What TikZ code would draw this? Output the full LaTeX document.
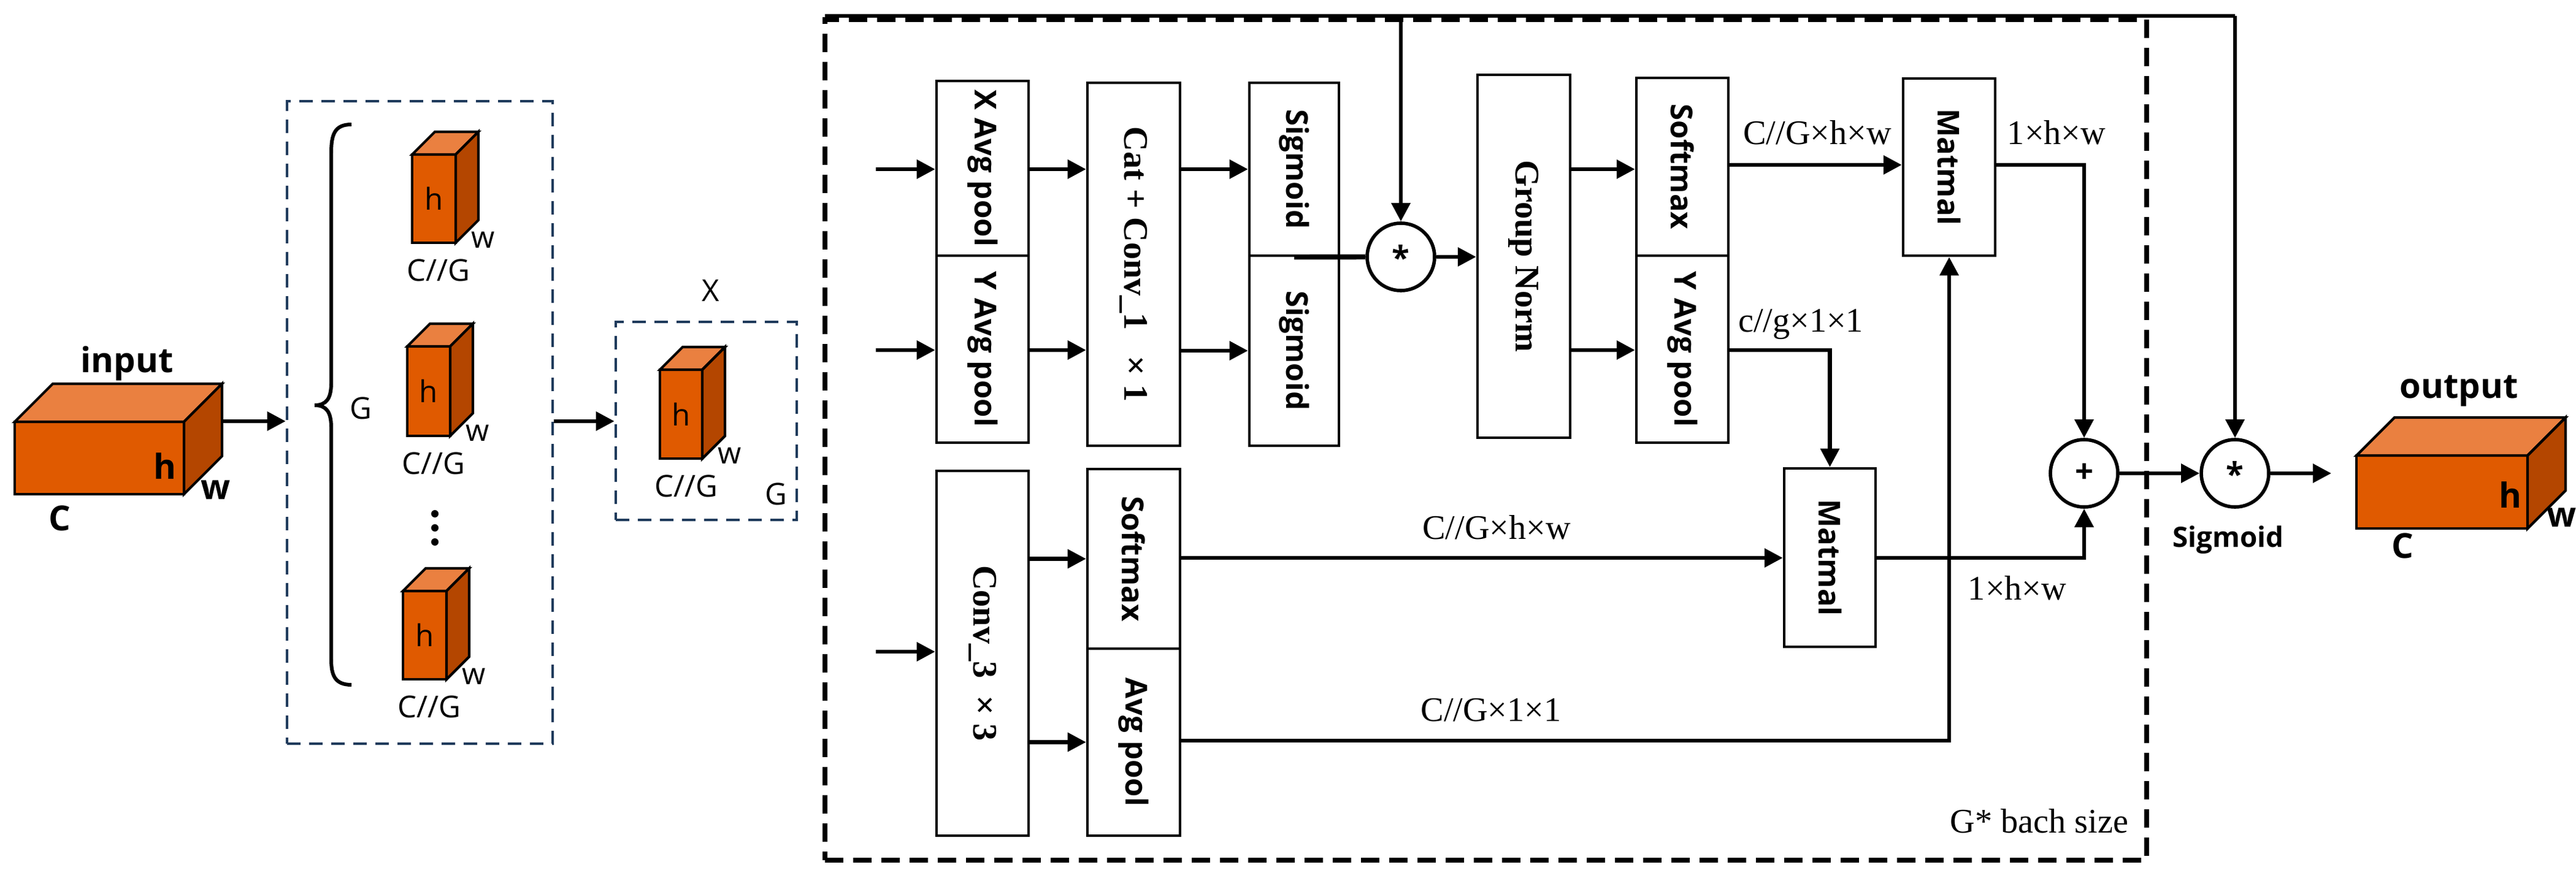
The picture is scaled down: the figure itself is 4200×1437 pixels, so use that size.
\documentclass[tikz,border=0pt]{standalone}
\usepackage{fontspec}
\setmainfont{Liberation Serif}
\newfontfamily\osans{Open Sans}
\usetikzlibrary{arrows.meta}
\definecolor{cfront}{HTML}{E05A00}
\definecolor{ctop}{HTML}{EA8040}
\definecolor{cside}{HTML}{B44600}
\definecolor{cblue}{HTML}{1F3B5C}
\newcommand\mycuboid[5]{% x y w h d
  \draw[cube] (#1,#2) rectangle ++(#3,#4);
  \draw[cube,fill=ctop] (#1,#2) -- ++(#5,-#5) -- ++(#3,0) -- ++(-#5,#5) -- cycle;
  \draw[cube,fill=cside] (#1+#3,#2) -- ++(#5,-#5) -- ++(0,#4) -- ++(-#5,#5) -- cycle;
}
\newcommand\smallcube[5]{% name x y w h
  \mycuboid{#2}{#3}{#4}{#5}{37}
  \node[clab] (#1h) at (#2+#4/2,#3+#5/2) {h};
  \node[clab] (#1w) at (#2+#4+45,#3+#5-5) {w};
  \node[clab] (#1c) at (#2+43,#3+#5+45) {C//G};
}
\begin{document}
\begin{tikzpicture}[x=0.1mm,y=-0.1mm,
  box/.style={draw,line width=1.3pt,inner sep=0pt},
  rot/.style={rotate=-90,font=\osans\bfseries\fontsize{14}{14}\selectfont},
  rots/.style={rotate=-90,font=\bfseries\fontsize{16}{16}\selectfont},
  arr/.style={line width=1.8pt,-{Triangle[length=3mm,width=3mm]}},
  ln/.style={line width=1.8pt},
  circ/.style={draw,circle,line width=1.6pt,minimum size=11mm,inner sep=0pt,font=\osans\bfseries\fontsize{15}{15}\selectfont},
  dim/.style={font=\fontsize{16}{16}\selectfont},
  cube/.style={draw,line width=1.2pt,fill=cfront},
  clab/.style={font=\osans\fontsize{14}{14}\selectfont},
  blab/.style={font=\osans\bfseries\fontsize{16}{16}\selectfont},
  bluebox/.style={draw=cblue,line width=1.3pt,dash pattern=on 2.2mm off 1.4mm}]
\useasboundingbox (0,0) rectangle (4200,1437);

% ---------- left part ----------
\mycuboid{24}{688}{276}{118}{62}
\node[blab] (inlab) at (207,593) {input};
\node[blab] (inh) at (269,760) {h};
\node[blab] (inw) at (352,799) {w};
\node[blab] (inc) at (97,845) {C};
\coordinate (incube) at (362,687);

\node[bluebox,minimum width=43.3mm,minimum height=104.8mm] (grp) at (684.5,689) {};
\draw[arr] (incube) -- (grp.west|-incube);
\draw[line width=1.7pt] (573,203) .. controls (545,203) and (540,220) .. (540,250) -- (540,625)
  .. controls (540,650) and (532,661) .. (513,661) .. controls (532,661) and (540,672) .. (540,697)
  -- (540,1075) .. controls (540,1100) and (545,1117) .. (573,1117);
\node[clab] (glab) at (588,666) {G};
\smallcube{a}{672}{252}{71}{144}
\smallcube{b}{664}{565}{70}{146}
\smallcube{c}{657}{964}{71}{144}
\foreach \yy in {838,861,884} \fill (709,\yy) circle (6);

\node[bluebox,minimum width=29.5mm,minimum height=32.3mm] (xbox) at (1151.5,686.5) {};
\draw[arr] (grp.east|-incube) -- (xbox.west|-incube);
\node[clab] (xlab) at (1159,474) {X};
\smallcube{d}{1076}{603}{69}{145}
\node[clab] (xg) at (1265,806) {G};

% ---------- big box ----------
\node[draw,line width=2.2pt,dash pattern=on 3mm off 1.6mm,minimum width=215.5mm,minimum height=137.1mm] (big) at (2422.5,717.5) {};
\node[dim] (gbs) at (3325,1339) {G* bach size};

\node[box,minimum width=15mm,minimum height=28.5mm] (xa) at (1602,274.5) {};
\node[rot] at (xa) {X Avg pool};
\node[box,minimum width=15mm,minimum height=30.5mm] (ya) at (1602,569.5) {};
\node[rot] at (ya) {Y Avg pool};
\node[box,minimum width=15.1mm,minimum height=59.2mm] (cat) at (1848.5,431) {};
\node[rots] at (cat) {Cat + Conv\_1 \ \ × 1};
\node[box,minimum width=14.6mm,minimum height=28.2mm] (sg1) at (2110,276) {};
\node[rot] at (sg1) {Sigmoid};
\node[box,minimum width=14.6mm,minimum height=31mm] (sg2) at (2110,572) {};
\node[rot] at (sg2) {Sigmoid};
\node[circ] (mul1) at (2284,419) {*};
\node[box,minimum width=15.1mm,minimum height=59.2mm] (gn) at (2484.5,418) {};
\node[rots] at (gn) {Group Norm};
\node[box,minimum width=15mm,minimum height=29mm] (sm1) at (2743,272) {};
\node[rot] at (sm1) {Softmax};
\node[box,minimum width=15mm,minimum height=30.5mm] (yap) at (2743,569.5) {};
\node[rot] at (yap) {Y Avg pool};
\node[box,minimum width=15mm,minimum height=28.9mm] (mm1) at (3178,272.5) {};
\node[rot] at (mm1) {Matmal};
\node[box,minimum width=14.9mm,minimum height=29.1mm] (mm2) at (2983.5,909.5) {};
\node[rot] at (mm2) {Matmal};
\node[box,minimum width=15mm,minimum height=59.5mm] (conv) at (1602,1065.5) {};
\node[rots] at (conv) {Conv\_3 \ × 3};
\node[box,minimum width=15.1mm,minimum height=29.3mm] (sm2) at (1848.5,911.5) {};
\node[rot] at (sm2) {Softmax};
\node[box,minimum width=15.1mm,minimum height=30.5mm] (ap) at (1848.5,1210.5) {};
\node[rot] at (ap) {Avg pool};
\node[circ] (plus) at (3398,772) {+};
\node[circ] (mul2) at (3644,772) {*};

% inputs
\coordinate (i1) at (1428,276);
\coordinate (i2) at (1428,571);
\coordinate (i3) at (1428,1063);
\draw[arr] (i1) -- (xa.west|-i1);
\draw[arr] (i2) -- (ya.west|-i2);
\draw[arr] (i3) -- (conv.west|-i3);
\draw[arr] (xa.east|-i1) -- (cat.west|-i1);
\draw[arr] (ya.east|-i2) -- (cat.west|-i2);
\draw[arr] (cat.east|-sg1) -- (sg1.west);
\draw[arr] (cat.east|-sg2) -- (sg2.west);
\draw[line width=2.4pt] (sg1.south) -- (mul1.west);
\draw[arr] (mul1) -- (gn.west|-mul1);
\draw[arr] (gn.east|-i1) -- (sm1.west|-i1);
\draw[arr] (gn.east|-i2) -- (yap.west|-i2);
\coordinate (top0) at (1345,26);
\coordinate (topr) at (3644,26);
\draw[ln] (top0) -- (topr);
\draw[arr] (topr) -- (mul2.north);
\draw[arr] (mul1|-top0) -- (mul1.north);
\coordinate (r1) at (2820,269);
\draw[arr] (sm1.east|-r1) -- (mm1.west|-r1);
\draw[arr] (mm1.east|-r1) -| (plus.north);
\coordinate (r2) at (2820,571);
\draw[arr] (yap.east|-r2) -| (mm2.north);
\coordinate (r3) at (1924,910);
\draw[arr] (conv.east|-sm2) -- (sm2.west);
\draw[arr] (conv.east|-ap) -- (ap.west);
\draw[arr] (sm2.east|-r3) -- (mm2.west|-r3);
\draw[arr] (mm2.east|-r3) -| (plus.south);
\coordinate (r4) at (1924,1208);
\draw[arr] (ap.east|-r4) -| (mm1.south);
\draw[arr] (plus) -- (mul2);
\coordinate (outc) at (3801,772);
\draw[arr] (mul2) -- (outc);

\node[dim] (d1) at (2963,216) {C//G×h×w};
\node[dim] (d2) at (3353,216) {1×h×w};
\node[dim] (d3) at (2936,529) {c//g×1×1};
\node[dim] (d4) at (2440,860) {C//G×h×w};
\node[dim] (d5) at (2431,1158) {C//G×1×1};
\node[dim] (d6) at (3289,959) {1×h×w};
\node[font=\osans\bfseries\fontsize{13}{13}\selectfont] (sgl) at (3633,881) {Sigmoid};

% output cube
\mycuboid{3842}{743}{279}{119}{62}
\node[blab] (outlab) at (4009,638) {output};
\node[blab] (outh) at (4093,807) {h};
\node[blab] (outw) at (4177,844) {w};
\node[blab] (outcl) at (3917,890) {C};
\end{tikzpicture}
\end{document}
